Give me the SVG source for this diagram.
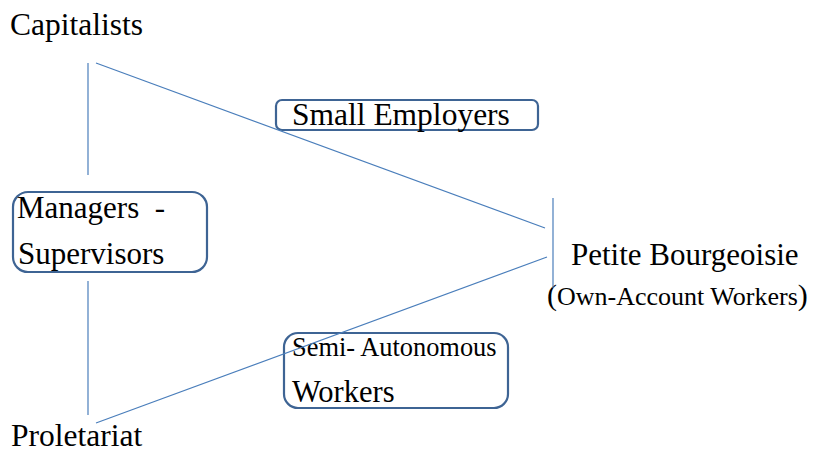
<svg xmlns="http://www.w3.org/2000/svg" width="819" height="455" viewBox="0 0 819 455">
<style>
text{font-family:'Liberation Serif','Times New Roman',serif;fill:#000}
.box{fill:#fff;stroke:#3e6494;stroke-width:2.2}
.ln{stroke:#4a7ebb;stroke-width:1.2;fill:none}
</style>
<rect width="819" height="455" fill="#fff"/>
<g id="capitalists"><text x="10" y="35" font-size="31.5">Capitalists</text></g>
<g id="small-employers">
<rect class="box" x="276" y="100" width="262" height="30" rx="6"/>
<text x="292" y="125" font-size="31.5">Small Employers</text>
</g>
<g id="managers">
<rect class="box" x="13" y="192" width="194" height="80" rx="15"/>
<text x="17" y="218" font-size="31" xml:space="preserve">Managers  -</text>
<text x="18" y="264" font-size="31">Supervisors</text>
</g>
<g id="petite-bourgeoisie">
<text x="571" y="265" font-size="31">Petite Bourgeoisie</text>
<text x="547" y="305" font-size="26"><tspan font-size="30">(</tspan>Own-Account Workers<tspan font-size="30">)</tspan></text>
</g>
<g id="semi-autonomous">
<rect class="box" x="284" y="333" width="224" height="75" rx="14"/>
<text x="292" y="356" font-size="26.4">Semi- Autonomous</text>
<text x="292" y="402" font-size="30.5">Workers</text>
</g>
<g id="proletariat"><text x="11" y="446" font-size="31.5">Proletariat</text></g>
<g id="connectors">
<line class="ln" x1="88" y1="63" x2="88" y2="175"/>
<line class="ln" x1="88" y1="281" x2="88" y2="415"/>
<line class="ln" x1="96" y1="63" x2="545" y2="228"/>
<line class="ln" x1="96" y1="423" x2="547" y2="257"/>
<line class="ln" x1="553" y1="198" x2="553" y2="288"/>
</g>
</svg>
